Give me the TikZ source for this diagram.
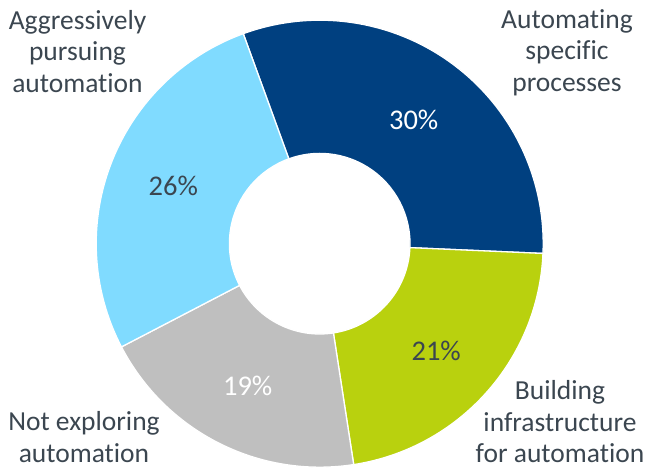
\documentclass[tikz,border=0pt]{standalone}
\usepackage{fontspec}
\setmainfont{Carlito}[Ligatures=NoCommon]
\usepackage{xcolor}
\usepackage{tikz}
\usetikzlibrary{calc}
\definecolor{qqdtoo}{rgb}{0.,0.25098039215686274,0.5019607843137255}
\definecolor{ooddff}{rgb}{0.5019607843137255,0.8588235294117647,1.}
\definecolor{ssddqq}{rgb}{0.7254901960784313,0.8196078431372549,0.054901960784313725}
\definecolor{ssssss}{rgb}{0.7490196078431373,0.7490196078431373,0.7490196078431373}
\definecolor{tttzuu}{rgb}{0.23137254901960785,0.27450980392156865,0.3137254901960784}
\tikzstyle{every node}=[font=\fontsize{27.5}{31.6}\selectfont,inner sep=0pt,color=tttzuu]
\tikzstyle{pct}=[font=\fontsize{28.5}{34}\selectfont]

\begin{document}
\begin{tikzpicture}[line cap=round,line join=round,x=1.0pt,y=1.0pt]
            \useasboundingbox (0,0) rectangle (645,470);
            \coordinate (O) at (319.7,226.3);
            \filldraw[line width=1.3pt,color=white,fill=qqdtoo,shift={(O)}] (110:223.5) arc[start angle=110,end angle=-2.5,radius=223.5] -- (-2.5:90.3) arc[start angle=-2.5,end angle=110,radius=90.3] -- cycle;
            \filldraw[line width=1.3pt,color=white,fill=ssddqq,shift={(O)}] (-2.5:223.5) arc[start angle=-2.5,end angle=-81.25,radius=223.5] -- (-81.25:90.3) arc[start angle=-81.25,end angle=-2.5,radius=90.3] -- cycle;
            \filldraw[line width=1.3pt,color=white,fill=ssssss,shift={(O)}] (-81.25:223.5) arc[start angle=-81.25,end angle=-152.5,radius=223.5] -- (-152.5:90.3) arc[start angle=-152.5,end angle=-81.25,radius=90.3] -- cycle;
            \filldraw[line width=1.3pt,color=white,fill=ooddff,shift={(O)}] (-152.5:223.5) arc[start angle=-152.5,end angle=-250,radius=223.5] -- (-250:90.3) arc[start angle=-250,end angle=-152.5,radius=90.3] -- cycle;
            % values
            \node[pct,color=white] (p30) at (413.7,350) {30\%};
            \node[pct] (p21) at (436.2,119.3) {21\%};
            \node[pct,color=white] (p19) at (247.7,84.3) {19\%};
            \node[pct] (p26) at (173.3,283.7) {26\%};
            % categories
            \node[anchor=north,align=center] (aggr) at (77.5,460) {Aggressively\\pursuing\\automation};
            \node[anchor=north,align=center] (spec) at (567,461) {Automating\\specific\\processes};
            \node[anchor=north,align=center] (infra) at (560,89.5) {Building\\infrastructure\\for automation};
            \node[anchor=north,align=center] (notex) at (84,58.5) {Not exploring\\automation};
        \end{tikzpicture}
\end{document}
